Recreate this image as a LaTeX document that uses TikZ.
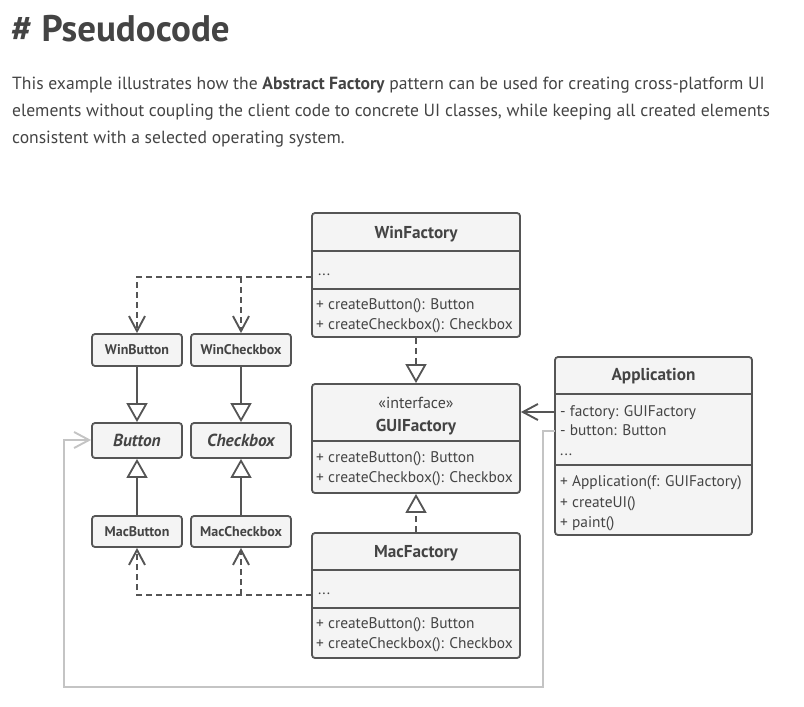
\documentclass[tikz,border=0pt]{standalone}
\usepackage{fontspec}
\setmainfont{PT Sans}
\usetikzlibrary{arrows.meta}
\definecolor{txt}{HTML}{444444}
\definecolor{bord}{HTML}{555555}
\definecolor{boxfill}{HTML}{F4F4F4}
\definecolor{lgray}{HTML}{C4C4C4}
\tikzset{
  umlbox/.style={draw=bord, fill=boxfill, line width=1.8pt, rounded corners=3pt, inner sep=0pt},
  divider/.style={draw=bord, line width=1.8pt},
  ttl/.style={font=\fontsize{17.2}{19}\selectfont\bfseries, text=txt, inner sep=0pt, anchor=base},
  small/.style={font=\fontsize{14}{16}\selectfont\bfseries, text=txt, inner sep=0pt},
  abst/.style={font=\fontsize{17.4}{19}\selectfont\bfseries\itshape, text=txt, inner sep=0pt},
  mem/.style={font=\fontsize{15.4}{17}\selectfont, text=txt, inner sep=0pt, anchor=base west},
  link/.style={draw=bord, line width=1.8pt},
  deplink/.style={draw=bord, line width=1.8pt, dash pattern=on 6pt off 4pt},
  inh/.style={-{Triangle[open, length=19pt, width=21pt, line width=1.8pt]}},
  assoc/.style={-{Straight Barb[length=15pt, width=16pt, line width=1.9pt]}},
  para/.style={anchor=base west, inner sep=0pt, text=txt, font=\fontsize{17.6}{22}\selectfont},
}
\begin{document}
\begin{tikzpicture}[x=1pt, y=-1pt]
\useasboundingbox (0,0) rectangle (804,707);
% heading and paragraph
\node[anchor=base west, inner sep=0pt, text=txt, font=\fontsize{37}{40}\selectfont\bfseries] (title) at (11,41) {\# Pseudocode};
\node[para] (p1) at (12,89) {This example illustrates how the \textbf{Abstract Factory} pattern can be used for creating cross-platform UI};
\node[para] (p2) at (12,116) {elements without coupling the client code to concrete UI classes, while keeping all created elements};
\node[para] (p3) at (12,143) {consistent with a selected operating system.};

% WinFactory
\node[umlbox, minimum width=208pt, minimum height=124pt] (wf) at (416,275) {};
\draw[divider] (312,251) -- (520,251);
\draw[divider] (312,289) -- (520,289);
\node[ttl] (wft) at (416,238) {WinFactory};
\node[mem] (wff) at (318,275) {...};
\node[mem] (wfm1) at (316,309) {+ createButton(): Button};
\node[mem] (wfm2) at (316,329) {+ createCheckbox(): Checkbox};

% GUIFactory
\node[umlbox, minimum width=208pt, minimum height=109pt] (gf) at (416,438.5) {};
\draw[divider] (312,441) -- (520,441);
\node[inner sep=0pt, text=txt, font=\fontsize{16}{18}\selectfont, anchor=base] (gfs) at (416,408) {«interface»};
\node[ttl] (gft) at (416,431) {GUIFactory};
\node[mem] (gfm1) at (316,462) {+ createButton(): Button};
\node[mem] (gfm2) at (316,482) {+ createCheckbox(): Checkbox};

% MacFactory
\node[umlbox, minimum width=208pt, minimum height=125pt] (mf) at (416,595.5) {};
\draw[divider] (312,570) -- (520,570);
\draw[divider] (312,608) -- (520,608);
\node[ttl] (mft) at (416,557) {MacFactory};
\node[mem] (mff) at (318,594) {...};
\node[mem] (mfm1) at (316,628) {+ createButton(): Button};
\node[mem] (mfm2) at (316,648) {+ createCheckbox(): Checkbox};

% Application
\node[umlbox, minimum width=197pt, minimum height=178pt] (app) at (653.5,446) {};
\draw[divider] (555,394) -- (752,394);
\draw[divider] (555,465) -- (752,465);
\node[ttl] (appt) at (653.5,380) {Application};
\node[mem] (appf1) at (560,416) {- factory: GUIFactory};
\node[mem] (appf2) at (560,435) {- button: Button};
\node[mem] (appf3) at (560,455) {...};
\node[mem] (appm1) at (560,486) {+ Application(f: GUIFactory)};
\node[mem] (appm2) at (560,507) {+ createUI()};
\node[mem] (appm3) at (560,527) {+ paint()};

% products
\node[umlbox, small, minimum width=90pt, minimum height=32pt] (wb) at (137,350) {WinButton};
\node[umlbox, small, minimum width=100pt, minimum height=32pt] (wc) at (241,350) {WinCheckbox};
\node[umlbox, abst, minimum width=90pt, minimum height=35pt] (btn) at (137,440.5) {Button};
\node[umlbox, abst, minimum width=100pt, minimum height=35pt] (chk) at (241,440.5) {Checkbox};
\node[umlbox, small, minimum width=90pt, minimum height=31pt] (mb) at (137,531.5) {MacButton};
\node[umlbox, small, minimum width=100pt, minimum height=31pt] (mc) at (241,531.5) {MacCheckbox};

% connectors
\coordinate (wfd) at (312,277);
\draw[deplink, assoc] (wfd) -| (wb.north);
\draw[deplink, assoc] (wfd -| wc.north) -- (wc.north);
\coordinate (mfd) at (312,595);
\draw[deplink, assoc] (mfd) -| (mb.south);
\draw[deplink, assoc] (mfd -| mc.south) -- (mc.south);

\draw[link, inh] (wb.south) -- (btn.north);
\draw[link, inh] (wc.south) -- (chk.north);
\draw[link, inh] (mb.north) -- (btn.south);
\draw[link, inh] (mc.north) -- (chk.south);

\draw[deplink, inh] (wf.south) -- (gf.north);
\draw[deplink, inh] (mf.north) -- (gf.south);

\coordinate (appa) at (555,412);
\draw[link, assoc] (appa) -- (appa -| gf.east);
\coordinate (appb) at (555,431);
\draw[draw=lgray, line width=1.8pt, -{Straight Barb[length=15pt, width=16pt, line width=1.9pt]}]
  (appb) -- (543,431) -- (543,687) -- (64,687) -- (64,440) -- (btn.west |- 0,440);
\end{tikzpicture}
\end{document}
